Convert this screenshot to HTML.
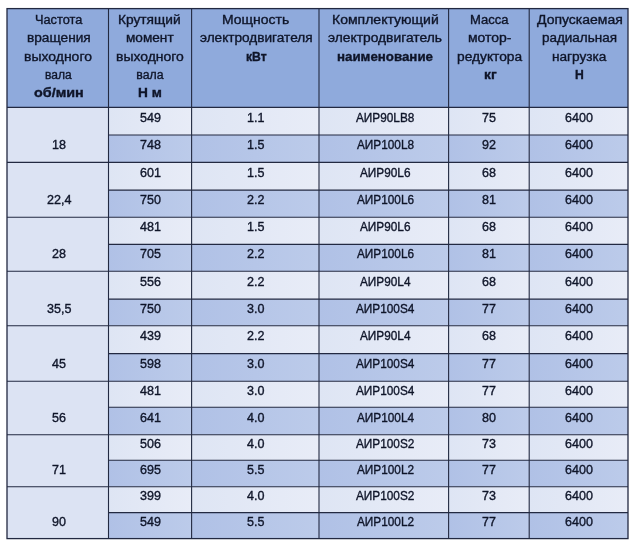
<!DOCTYPE html>
<html lang="ru"><head><meta charset="utf-8"><title>Таблица мотор-редукторов</title>
<style>
html,body{margin:0;padding:0;background:#fff;}
body{width:640px;height:548px;position:relative;overflow:hidden;font-family:"Liberation Sans",sans-serif;color:#0f1529;}
.c{position:absolute;}
.t{-webkit-text-stroke:0.35px currentColor;position:absolute;white-space:nowrap;line-height:16px;height:16px;font-size:12.3px;transform-origin:0 0;}
.b{font-weight:bold;}
.l{position:absolute;background:#222941;}
</style></head><body>

<svg class="c" style="left:0;top:0" width="640" height="548" viewBox="0 0 640 548"><defs><linearGradient id="gl" x1="0" y1="0" x2="1" y2="0"><stop offset="0" stop-color="#dee5f4"/><stop offset="1" stop-color="#e8ecf7"/></linearGradient><linearGradient id="gd" x1="0" y1="0" x2="1" y2="0"><stop offset="0" stop-color="#b0c1e6"/><stop offset="1" stop-color="#bccbea"/></linearGradient></defs><rect x="7.00" y="8.60" width="621.00" height="98.80" fill="#8faadc"/><rect x="7.00" y="107.40" width="101.50" height="431.20" fill="#dce3f3"/><rect x="108.50" y="107.40" width="83.10" height="27.60" fill="url(#gl)"/><rect x="191.60" y="107.40" width="127.40" height="27.60" fill="url(#gl)"/><rect x="319.00" y="107.40" width="129.60" height="27.60" fill="url(#gl)"/><rect x="448.60" y="107.40" width="80.60" height="27.60" fill="url(#gl)"/><rect x="529.20" y="107.40" width="98.80" height="27.60" fill="url(#gl)"/><rect x="108.50" y="135.00" width="83.10" height="27.40" fill="url(#gd)"/><rect x="191.60" y="135.00" width="127.40" height="27.40" fill="url(#gd)"/><rect x="319.00" y="135.00" width="129.60" height="27.40" fill="url(#gd)"/><rect x="448.60" y="135.00" width="80.60" height="27.40" fill="url(#gd)"/><rect x="529.20" y="135.00" width="98.80" height="27.40" fill="url(#gd)"/><rect x="108.50" y="162.40" width="83.10" height="27.70" fill="url(#gl)"/><rect x="191.60" y="162.40" width="127.40" height="27.70" fill="url(#gl)"/><rect x="319.00" y="162.40" width="129.60" height="27.70" fill="url(#gl)"/><rect x="448.60" y="162.40" width="80.60" height="27.70" fill="url(#gl)"/><rect x="529.20" y="162.40" width="98.80" height="27.70" fill="url(#gl)"/><rect x="108.50" y="190.10" width="83.10" height="27.10" fill="url(#gd)"/><rect x="191.60" y="190.10" width="127.40" height="27.10" fill="url(#gd)"/><rect x="319.00" y="190.10" width="129.60" height="27.10" fill="url(#gd)"/><rect x="448.60" y="190.10" width="80.60" height="27.10" fill="url(#gd)"/><rect x="529.20" y="190.10" width="98.80" height="27.10" fill="url(#gd)"/><rect x="108.50" y="217.20" width="83.10" height="27.20" fill="url(#gl)"/><rect x="191.60" y="217.20" width="127.40" height="27.20" fill="url(#gl)"/><rect x="319.00" y="217.20" width="129.60" height="27.20" fill="url(#gl)"/><rect x="448.60" y="217.20" width="80.60" height="27.20" fill="url(#gl)"/><rect x="529.20" y="217.20" width="98.80" height="27.20" fill="url(#gl)"/><rect x="108.50" y="244.40" width="83.10" height="26.80" fill="url(#gd)"/><rect x="191.60" y="244.40" width="127.40" height="26.80" fill="url(#gd)"/><rect x="319.00" y="244.40" width="129.60" height="26.80" fill="url(#gd)"/><rect x="448.60" y="244.40" width="80.60" height="26.80" fill="url(#gd)"/><rect x="529.20" y="244.40" width="98.80" height="26.80" fill="url(#gd)"/><rect x="108.50" y="271.20" width="83.10" height="27.90" fill="url(#gl)"/><rect x="191.60" y="271.20" width="127.40" height="27.90" fill="url(#gl)"/><rect x="319.00" y="271.20" width="129.60" height="27.90" fill="url(#gl)"/><rect x="448.60" y="271.20" width="80.60" height="27.90" fill="url(#gl)"/><rect x="529.20" y="271.20" width="98.80" height="27.90" fill="url(#gl)"/><rect x="108.50" y="299.10" width="83.10" height="26.60" fill="url(#gd)"/><rect x="191.60" y="299.10" width="127.40" height="26.60" fill="url(#gd)"/><rect x="319.00" y="299.10" width="129.60" height="26.60" fill="url(#gd)"/><rect x="448.60" y="299.10" width="80.60" height="26.60" fill="url(#gd)"/><rect x="529.20" y="299.10" width="98.80" height="26.60" fill="url(#gd)"/><rect x="108.50" y="325.70" width="83.10" height="27.90" fill="url(#gl)"/><rect x="191.60" y="325.70" width="127.40" height="27.90" fill="url(#gl)"/><rect x="319.00" y="325.70" width="129.60" height="27.90" fill="url(#gl)"/><rect x="448.60" y="325.70" width="80.60" height="27.90" fill="url(#gl)"/><rect x="529.20" y="325.70" width="98.80" height="27.90" fill="url(#gl)"/><rect x="108.50" y="353.60" width="83.10" height="27.70" fill="url(#gd)"/><rect x="191.60" y="353.60" width="127.40" height="27.70" fill="url(#gd)"/><rect x="319.00" y="353.60" width="129.60" height="27.70" fill="url(#gd)"/><rect x="448.60" y="353.60" width="80.60" height="27.70" fill="url(#gd)"/><rect x="529.20" y="353.60" width="98.80" height="27.70" fill="url(#gd)"/><rect x="108.50" y="381.30" width="83.10" height="25.90" fill="url(#gl)"/><rect x="191.60" y="381.30" width="127.40" height="25.90" fill="url(#gl)"/><rect x="319.00" y="381.30" width="129.60" height="25.90" fill="url(#gl)"/><rect x="448.60" y="381.30" width="80.60" height="25.90" fill="url(#gl)"/><rect x="529.20" y="381.30" width="98.80" height="25.90" fill="url(#gl)"/><rect x="108.50" y="407.20" width="83.10" height="27.50" fill="url(#gd)"/><rect x="191.60" y="407.20" width="127.40" height="27.50" fill="url(#gd)"/><rect x="319.00" y="407.20" width="129.60" height="27.50" fill="url(#gd)"/><rect x="448.60" y="407.20" width="80.60" height="27.50" fill="url(#gd)"/><rect x="529.20" y="407.20" width="98.80" height="27.50" fill="url(#gd)"/><rect x="108.50" y="434.70" width="83.10" height="25.50" fill="url(#gl)"/><rect x="191.60" y="434.70" width="127.40" height="25.50" fill="url(#gl)"/><rect x="319.00" y="434.70" width="129.60" height="25.50" fill="url(#gl)"/><rect x="448.60" y="434.70" width="80.60" height="25.50" fill="url(#gl)"/><rect x="529.20" y="434.70" width="98.80" height="25.50" fill="url(#gl)"/><rect x="108.50" y="460.20" width="83.10" height="26.50" fill="url(#gd)"/><rect x="191.60" y="460.20" width="127.40" height="26.50" fill="url(#gd)"/><rect x="319.00" y="460.20" width="129.60" height="26.50" fill="url(#gd)"/><rect x="448.60" y="460.20" width="80.60" height="26.50" fill="url(#gd)"/><rect x="529.20" y="460.20" width="98.80" height="26.50" fill="url(#gd)"/><rect x="108.50" y="486.70" width="83.10" height="25.90" fill="url(#gl)"/><rect x="191.60" y="486.70" width="127.40" height="25.90" fill="url(#gl)"/><rect x="319.00" y="486.70" width="129.60" height="25.90" fill="url(#gl)"/><rect x="448.60" y="486.70" width="80.60" height="25.90" fill="url(#gl)"/><rect x="529.20" y="486.70" width="98.80" height="25.90" fill="url(#gl)"/><rect x="108.50" y="512.60" width="83.10" height="26.00" fill="url(#gd)"/><rect x="191.60" y="512.60" width="127.40" height="26.00" fill="url(#gd)"/><rect x="319.00" y="512.60" width="129.60" height="26.00" fill="url(#gd)"/><rect x="448.60" y="512.60" width="80.60" height="26.00" fill="url(#gd)"/><rect x="529.20" y="512.60" width="98.80" height="26.00" fill="url(#gd)"/><line x1="7.00" y1="107.40" x2="628.00" y2="107.40" stroke="#222941" stroke-width="1.10"/><line x1="108.50" y1="135.00" x2="628.00" y2="135.00" stroke="#222941" stroke-width="1.10"/><line x1="7.00" y1="162.40" x2="628.00" y2="162.40" stroke="#222941" stroke-width="1.10"/><line x1="108.50" y1="190.10" x2="628.00" y2="190.10" stroke="#222941" stroke-width="1.10"/><line x1="7.00" y1="217.20" x2="628.00" y2="217.20" stroke="#222941" stroke-width="1.10"/><line x1="108.50" y1="244.40" x2="628.00" y2="244.40" stroke="#222941" stroke-width="1.10"/><line x1="7.00" y1="271.20" x2="628.00" y2="271.20" stroke="#222941" stroke-width="1.10"/><line x1="108.50" y1="299.10" x2="628.00" y2="299.10" stroke="#222941" stroke-width="1.10"/><line x1="7.00" y1="325.70" x2="628.00" y2="325.70" stroke="#222941" stroke-width="1.10"/><line x1="108.50" y1="353.60" x2="628.00" y2="353.60" stroke="#222941" stroke-width="1.10"/><line x1="7.00" y1="381.30" x2="628.00" y2="381.30" stroke="#222941" stroke-width="1.10"/><line x1="108.50" y1="407.20" x2="628.00" y2="407.20" stroke="#222941" stroke-width="1.10"/><line x1="7.00" y1="434.70" x2="628.00" y2="434.70" stroke="#222941" stroke-width="1.10"/><line x1="108.50" y1="460.20" x2="628.00" y2="460.20" stroke="#222941" stroke-width="1.10"/><line x1="7.00" y1="486.70" x2="628.00" y2="486.70" stroke="#222941" stroke-width="1.10"/><line x1="108.50" y1="512.60" x2="628.00" y2="512.60" stroke="#222941" stroke-width="1.10"/><line x1="108.50" y1="8.60" x2="108.50" y2="538.60" stroke="#222941" stroke-width="1.10"/><line x1="191.60" y1="8.60" x2="191.60" y2="538.60" stroke="#222941" stroke-width="1.10"/><line x1="319.00" y1="8.60" x2="319.00" y2="538.60" stroke="#222941" stroke-width="1.10"/><line x1="448.60" y1="8.60" x2="448.60" y2="538.60" stroke="#222941" stroke-width="1.10"/><line x1="529.20" y1="8.60" x2="529.20" y2="538.60" stroke="#222941" stroke-width="1.10"/><rect x="7.00" y="8.60" width="621.00" height="530.00" fill="none" stroke="#222941" stroke-width="1.3"/></svg>
<div class="t" style="left:35.00px;top:12.19px;transform:scaleX(1.038)">Частота</div>
<div class="t" style="left:26.80px;top:30.24px;transform:scaleX(1.111)">вращения</div>
<div class="t" style="left:24.40px;top:48.54px;transform:scaleX(1.136)">выходного</div>
<div class="t" style="left:45.40px;top:66.64px;transform:scaleX(0.978)">вала</div>
<div class="t b" style="left:33.50px;top:84.74px;transform:scaleX(1.169)">об/мин</div>
<div class="t" style="left:118.18px;top:12.19px;transform:scaleX(1.116)">Крутящий</div>
<div class="t" style="left:125.70px;top:30.24px;transform:scaleX(1.107)">момент</div>
<div class="t" style="left:115.70px;top:48.54px;transform:scaleX(1.134)">выходного</div>
<div class="t" style="left:136.30px;top:66.64px;transform:scaleX(1.000)">вала</div>
<div class="t b" style="left:138.10px;top:84.74px;transform:scaleX(1.113)">Н м</div>
<div class="t" style="left:222.26px;top:12.19px;transform:scaleX(1.136)">Мощность</div>
<div class="t" style="left:200.30px;top:30.24px;transform:scaleX(1.107)">электродвигателя</div>
<div class="t b" style="left:246.10px;top:48.54px;transform:scaleX(0.987)">кВт</div>
<div class="t" style="left:331.86px;top:12.19px;transform:scaleX(1.140)">Комплектующий</div>
<div class="t" style="left:328.30px;top:30.24px;transform:scaleX(1.123)">электродвигатель</div>
<div class="t b" style="left:337.20px;top:48.54px;transform:scaleX(1.081)">наименование</div>
<div class="t" style="left:469.64px;top:12.19px;transform:scaleX(1.061)">Масса</div>
<div class="t" style="left:468.30px;top:30.24px;transform:scaleX(1.136)">мотор-</div>
<div class="t" style="left:456.50px;top:48.54px;transform:scaleX(1.118)">редуктора</div>
<div class="t b" style="left:483.50px;top:66.64px;transform:scaleX(1.121)">кг</div>
<div class="t" style="left:536.60px;top:12.19px;transform:scaleX(1.137)">Допускаемая</div>
<div class="t" style="left:542.00px;top:30.24px;transform:scaleX(1.095)">радиальная</div>
<div class="t" style="left:551.80px;top:48.54px;transform:scaleX(1.109)">нагрузка</div>
<div class="t b" style="left:574.60px;top:66.64px;transform:scaleX(0.989)">Н</div>
<div class="t" style="left:139.74px;top:109.90px;transform:scaleX(1.020)">549</div>
<div class="t" style="left:247.18px;top:109.90px;transform:scaleX(1.020)">1.1</div>
<div class="t" style="left:356.22px;top:109.90px;transform:scaleX(0.960)">АИР90LB8</div>
<div class="t" style="left:482.32px;top:109.90px;transform:scaleX(1.020)">75</div>
<div class="t" style="left:565.05px;top:109.90px;transform:scaleX(1.020)">6400</div>
<div class="t" style="left:51.92px;top:137.40px;transform:scaleX(1.020)">18</div>
<div class="t" style="left:139.74px;top:137.40px;transform:scaleX(1.020)">748</div>
<div class="t" style="left:247.18px;top:137.40px;transform:scaleX(1.020)">1.5</div>
<div class="t" style="left:356.87px;top:137.40px;transform:scaleX(0.960)">АИР100L8</div>
<div class="t" style="left:482.32px;top:137.40px;transform:scaleX(1.020)">92</div>
<div class="t" style="left:565.05px;top:137.40px;transform:scaleX(1.020)">6400</div>
<div class="t" style="left:139.74px;top:164.96px;transform:scaleX(1.020)">601</div>
<div class="t" style="left:247.18px;top:164.96px;transform:scaleX(1.020)">1.5</div>
<div class="t" style="left:360.15px;top:164.96px;transform:scaleX(0.960)">АИР90L6</div>
<div class="t" style="left:482.32px;top:164.96px;transform:scaleX(1.020)">68</div>
<div class="t" style="left:565.05px;top:164.96px;transform:scaleX(1.020)">6400</div>
<div class="t" style="left:46.69px;top:192.34px;transform:scaleX(1.020)">22,4</div>
<div class="t" style="left:139.74px;top:192.34px;transform:scaleX(1.020)">750</div>
<div class="t" style="left:247.18px;top:192.34px;transform:scaleX(1.020)">2.2</div>
<div class="t" style="left:356.87px;top:192.34px;transform:scaleX(0.960)">АИР100L6</div>
<div class="t" style="left:482.32px;top:192.34px;transform:scaleX(1.020)">81</div>
<div class="t" style="left:565.05px;top:192.34px;transform:scaleX(1.020)">6400</div>
<div class="t" style="left:139.74px;top:219.49px;transform:scaleX(1.020)">481</div>
<div class="t" style="left:247.18px;top:219.49px;transform:scaleX(1.020)">1.5</div>
<div class="t" style="left:360.15px;top:219.49px;transform:scaleX(0.960)">АИР90L6</div>
<div class="t" style="left:482.32px;top:219.49px;transform:scaleX(1.020)">68</div>
<div class="t" style="left:565.05px;top:219.49px;transform:scaleX(1.020)">6400</div>
<div class="t" style="left:51.92px;top:246.48px;transform:scaleX(1.020)">28</div>
<div class="t" style="left:139.74px;top:246.48px;transform:scaleX(1.020)">705</div>
<div class="t" style="left:247.18px;top:246.48px;transform:scaleX(1.020)">2.2</div>
<div class="t" style="left:356.87px;top:246.48px;transform:scaleX(0.960)">АИР100L6</div>
<div class="t" style="left:482.32px;top:246.48px;transform:scaleX(1.020)">81</div>
<div class="t" style="left:565.05px;top:246.48px;transform:scaleX(1.020)">6400</div>
<div class="t" style="left:139.74px;top:273.86px;transform:scaleX(1.020)">556</div>
<div class="t" style="left:247.18px;top:273.86px;transform:scaleX(1.020)">2.2</div>
<div class="t" style="left:360.15px;top:273.86px;transform:scaleX(0.960)">АИР90L4</div>
<div class="t" style="left:482.32px;top:273.86px;transform:scaleX(1.020)">68</div>
<div class="t" style="left:565.05px;top:273.86px;transform:scaleX(1.020)">6400</div>
<div class="t" style="left:46.69px;top:301.07px;transform:scaleX(1.020)">35,5</div>
<div class="t" style="left:139.74px;top:301.07px;transform:scaleX(1.020)">750</div>
<div class="t" style="left:247.18px;top:301.07px;transform:scaleX(1.020)">3.0</div>
<div class="t" style="left:356.22px;top:301.07px;transform:scaleX(0.960)">АИР100S4</div>
<div class="t" style="left:482.32px;top:301.07px;transform:scaleX(1.020)">77</div>
<div class="t" style="left:565.05px;top:301.07px;transform:scaleX(1.020)">6400</div>
<div class="t" style="left:139.74px;top:328.36px;transform:scaleX(1.020)">439</div>
<div class="t" style="left:247.18px;top:328.36px;transform:scaleX(1.020)">2.2</div>
<div class="t" style="left:360.15px;top:328.36px;transform:scaleX(0.960)">АИР90L4</div>
<div class="t" style="left:482.32px;top:328.36px;transform:scaleX(1.020)">68</div>
<div class="t" style="left:565.05px;top:328.36px;transform:scaleX(1.020)">6400</div>
<div class="t" style="left:51.92px;top:356.16px;transform:scaleX(1.020)">45</div>
<div class="t" style="left:139.74px;top:356.16px;transform:scaleX(1.020)">598</div>
<div class="t" style="left:247.18px;top:356.16px;transform:scaleX(1.020)">3.0</div>
<div class="t" style="left:356.22px;top:356.16px;transform:scaleX(0.960)">АИР100S4</div>
<div class="t" style="left:482.32px;top:356.16px;transform:scaleX(1.020)">77</div>
<div class="t" style="left:565.05px;top:356.16px;transform:scaleX(1.020)">6400</div>
<div class="t" style="left:139.74px;top:382.89px;transform:scaleX(1.020)">481</div>
<div class="t" style="left:247.18px;top:382.89px;transform:scaleX(1.020)">3.0</div>
<div class="t" style="left:356.22px;top:382.89px;transform:scaleX(0.960)">АИР100S4</div>
<div class="t" style="left:482.32px;top:382.89px;transform:scaleX(1.020)">77</div>
<div class="t" style="left:565.05px;top:382.89px;transform:scaleX(1.020)">6400</div>
<div class="t" style="left:51.92px;top:409.65px;transform:scaleX(1.020)">56</div>
<div class="t" style="left:139.74px;top:409.65px;transform:scaleX(1.020)">641</div>
<div class="t" style="left:247.18px;top:409.65px;transform:scaleX(1.020)">4.0</div>
<div class="t" style="left:356.87px;top:409.65px;transform:scaleX(0.960)">АИР100L4</div>
<div class="t" style="left:482.32px;top:409.65px;transform:scaleX(1.020)">80</div>
<div class="t" style="left:565.05px;top:409.65px;transform:scaleX(1.020)">6400</div>
<div class="t" style="left:139.74px;top:436.08px;transform:scaleX(1.020)">506</div>
<div class="t" style="left:247.18px;top:436.08px;transform:scaleX(1.020)">4.0</div>
<div class="t" style="left:356.22px;top:436.08px;transform:scaleX(0.960)">АИР100S2</div>
<div class="t" style="left:482.32px;top:436.08px;transform:scaleX(1.020)">73</div>
<div class="t" style="left:565.05px;top:436.08px;transform:scaleX(1.020)">6400</div>
<div class="t" style="left:51.92px;top:462.12px;transform:scaleX(1.020)">71</div>
<div class="t" style="left:139.74px;top:462.12px;transform:scaleX(1.020)">695</div>
<div class="t" style="left:247.18px;top:462.12px;transform:scaleX(1.020)">5.5</div>
<div class="t" style="left:356.87px;top:462.12px;transform:scaleX(0.960)">АИР100L2</div>
<div class="t" style="left:482.32px;top:462.12px;transform:scaleX(1.020)">77</div>
<div class="t" style="left:565.05px;top:462.12px;transform:scaleX(1.020)">6400</div>
<div class="t" style="left:139.74px;top:488.29px;transform:scaleX(1.020)">399</div>
<div class="t" style="left:247.18px;top:488.29px;transform:scaleX(1.020)">4.0</div>
<div class="t" style="left:356.22px;top:488.29px;transform:scaleX(0.960)">АИР100S2</div>
<div class="t" style="left:482.32px;top:488.29px;transform:scaleX(1.020)">73</div>
<div class="t" style="left:565.05px;top:488.29px;transform:scaleX(1.020)">6400</div>
<div class="t" style="left:51.92px;top:514.25px;transform:scaleX(1.020)">90</div>
<div class="t" style="left:139.74px;top:514.25px;transform:scaleX(1.020)">549</div>
<div class="t" style="left:247.18px;top:514.25px;transform:scaleX(1.020)">5.5</div>
<div class="t" style="left:356.87px;top:514.25px;transform:scaleX(0.960)">АИР100L2</div>
<div class="t" style="left:482.32px;top:514.25px;transform:scaleX(1.020)">77</div>
<div class="t" style="left:565.05px;top:514.25px;transform:scaleX(1.020)">6400</div>
</body></html>
